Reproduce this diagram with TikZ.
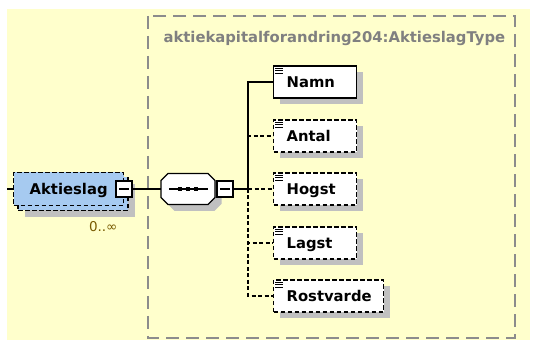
\documentclass[tikz,border=0pt]{standalone}
\usepackage{fontspec}
\setmainfont{DejaVu Sans}
\usetikzlibrary{shapes,positioning,shadows,calc}
\definecolor{bgyellow}{RGB}{255,255,204}
\definecolor{framegrey}{RGB}{140,140,140}
\definecolor{titlegrey}{RGB}{128,128,128}
\definecolor{elemblue}{RGB}{166,202,240}
\definecolor{shadowgrey}{RGB}{192,192,192}
\definecolor{occbrown}{RGB}{120,90,0}

\begin{document}
\begin{tikzpicture}[x=1pt,y=-1pt,
					every node/.style={font=\fontsize{14.8}{17}\selectfont\bfseries},
					conn/.style={line width=1.3pt},
					optconn/.style={conn, dash pattern=on 4pt off 2.5pt},
					cast/.style={drop shadow={shadow xshift=6.5pt, shadow yshift=-6.5pt, fill=shadowgrey, opacity=1}},
					elem/.style={draw, fill=white, line width=1.3pt, anchor=west, minimum height=32,
						inner xsep=13pt, text height=10.8pt, text depth=0pt, align=left, text width=57pt, cast},
					optelem/.style={elem, dash pattern=on 4.5pt off 2.5pt},
					aktbox/.style={draw, fill=elemblue, line width=1.3pt, dash pattern=on 4.5pt off 2.5pt,
						minimum width=110, minimum height=33},
					minus/.style={draw, fill=white, line width=1.1pt, minimum size=16, inner sep=0pt,
						path picture={\draw[line width=1.1pt] ([xshift=3pt]path picture bounding box.west)
							-- ([xshift=-3pt]path picture bounding box.east);}},
					seqbox/.style={minimum width=54, minimum height=31, inner sep=0pt},
					seqshape/.pic={
						\filldraw[cast, fill=white, line width=1.3pt] (-20,-15.5) -- (20,-15.5) -- (27,-8.5) -- (27,8.5)
							-- (20,15.5) -- (-20,15.5) -- (-27,8.5) -- (-27,-8.5) -- cycle;
						\draw[line width=1.3pt] (-19,0) -- (20,0);
						\foreach \x in {-8,0,8}
							\fill (\x-2.2,-2.2) rectangle ++(4.4,4.4);
					},
					title/.style={text=titlegrey},
					occ/.style={font=\fontsize{13.5}{15}\selectfont, text=occbrown}]
	\useasboundingbox (0,0) rectangle (536,344);
	\fill[white] (0,0) rectangle (536,344);
	\fill[bgyellow] (7,9) rectangle (530,340);
	\draw[framegrey, line width=1.3pt, dash pattern=on 13pt off 7pt] (148,16) rectangle (515,338);
	\node[title, anchor=base west] (typename) at (160,43) {aktiekapitalforandring204:AktieslagType};

	\node[aktbox, cast] (aktback) at (73,194) {};
	\node[aktbox, anchor=west, inner xsep=16pt, text width=78pt, align=left,
		text height=10.8pt, text depth=0pt] (akt) at (13,189) {Aktieslag};
	\node[minus] (aktm) at (124,189) {};
	\node[occ, anchor=base east] (occ) at (121,232) {0..∞};

	\node[seqbox] (seq) at (188,189) {};
	\pic at (seq) {seqshape};
	\node[minus] (seqm) at (225,189) {};

	\node[elem] (namn) at (273,82) {Namn};
	\node[optelem] (antal) at (273,136) {Antal};
	\node[optelem] (hogst) at (273,189) {Hogst};
	\node[optelem] (lagst) at (273,243) {Lagst};
	\node[optelem, text width=84pt] (rost) at (273,296) {Rostvarde};
	\foreach \n in {namn,antal,hogst,lagst,rost}
		\foreach \d in {3,5.5,8}
			\draw[line width=0.9pt] ([shift={(2,\d)}]\n.north west) -- ++(8,0);

	\coordinate (in) at (7,189);
	\coordinate (fork) at (248,189);
	\draw[conn] (in) -- (akt.west);
	\draw[conn] (aktm.east) -- (seq.west);
	\draw[conn] (seqm.east) -- (fork);
	\draw[conn] (fork) |- (namn.west);
	\draw[optconn] (fork) |- (antal.west);
	\draw[optconn] (fork) |- (hogst.west);
	\draw[optconn] (fork) |- (lagst.west);
	\draw[optconn] (fork) |- (rost.west);
\end{tikzpicture}
\end{document}
